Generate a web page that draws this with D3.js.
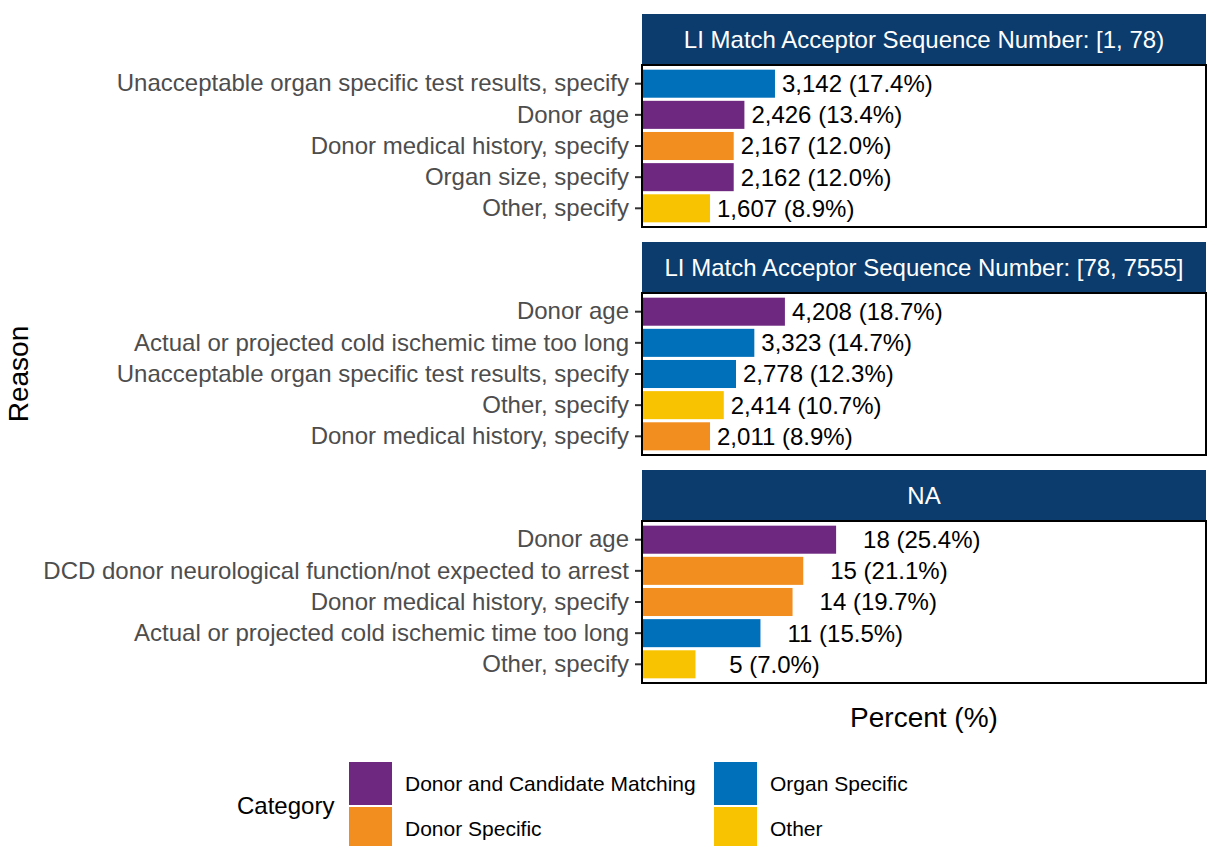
<!DOCTYPE html>
<html>
<head>
<meta charset="utf-8">
<script src="https://cdn.jsdelivr.net/npm/d3@7"></script>
<style>
  body { margin: 0; background: #fff; }
  text { font-family: "Liberation Sans", Arial, sans-serif; }
</style>
</head>
<body>
<div id="chart"></div>
<script>
// facet titles
var facets = ["LI Match Acceptor Sequence Number: [1, 78)",
              "LI Match Acceptor Sequence Number: [78, 7555]",
              "NA"];

// reasons, counts, percents and category of each bar, one set per facet
var reasons1 = ["Unacceptable organ specific test results, specify", "Donor age",
                "Donor medical history, specify", "Organ size, specify", "Other, specify"];
var counts1 = [3142, 2426, 2167, 2162, 1607];
var pct1 = [17.4, 13.4, 12.0, 12.0, 8.9];
var cats1 = ["Organ Specific", "Donor and Candidate Matching", "Donor Specific",
             "Donor and Candidate Matching", "Other"];

var reasons2 = ["Donor age", "Actual or projected cold ischemic time too long",
                "Unacceptable organ specific test results, specify", "Other, specify",
                "Donor medical history, specify"];
var counts2 = [4208, 3323, 2778, 2414, 2011];
var pct2 = [18.7, 14.7, 12.3, 10.7, 8.9];
var cats2 = ["Donor and Candidate Matching", "Organ Specific", "Organ Specific",
             "Other", "Donor Specific"];

var reasons3 = ["Donor age", "DCD donor neurological function/not expected to arrest",
                "Donor medical history, specify", "Actual or projected cold ischemic time too long",
                "Other, specify"];
var counts3 = [18, 15, 14, 11, 5];
var pct3 = [25.4, 21.1, 19.7, 15.5, 7.0];
var cats3 = ["Donor and Candidate Matching", "Donor Specific", "Donor Specific",
             "Organ Specific", "Other"];

var categories = ["Donor and Candidate Matching", "Donor Specific", "Organ Specific", "Other"];
var catColors = ["#6e2880", "#f28e1f", "#0070bb", "#f8c300"];

var width = 1207, height = 846;
var panelLeft = 642, panelRight = 1206;
var stripTop = 14, stripH = 51, panelH = 162, facetStep = 228;

var svg = d3.select("#chart").append("svg")
    .attr("width", width)
    .attr("height", height);

var x = d3.scaleLinear().domain([0, 73.8]).range([panelLeft, panelRight]);
var color = d3.scaleOrdinal().domain(categories).range(catColors);
var fmt = d3.format(",");

var sets = [
  { reasons: reasons1, counts: counts1, pct: pct1, cats: cats1 },
  { reasons: reasons2, counts: counts2, pct: pct2, cats: cats2 },
  { reasons: reasons3, counts: counts3, pct: pct3, cats: cats3 }
];

// counts are padded to a common width, like format() in R does
function pad(s, n) { while (s.length < n) s = " " + s; return s; }

sets.forEach(function(set, i) {
  var top = stripTop + i * facetStep;
  var pTop = top + stripH;
  var data = set.reasons.map(function(r, j) {
    return { reason: r, n: set.counts[j], pct: set.pct[j], cat: set.cats[j] };
  });

  var y = d3.scaleBand()
      .domain(set.reasons)
      .range([pTop, pTop + panelH])
      .paddingInner(0.1)
      .paddingOuter(0.15);

  var g = svg.append("g");

  // strip
  g.append("rect")
      .attr("x", panelLeft)
      .attr("y", top)
      .attr("width", panelRight - panelLeft)
      .attr("height", stripH)
      .attr("fill", "#0b3c6d");
  g.append("text")
      .attr("x", (panelLeft + panelRight) / 2)
      .attr("y", top + stripH / 2)
      .attr("dy", "0.35em")
      .attr("text-anchor", "middle")
      .attr("fill", "#fff")
      .style("font-size", "24px")
      .text(facets[i]);

  // bars
  g.selectAll(".bar")
      .data(data)
      .enter().append("rect")
      .attr("x", x(0))
      .attr("y", function(d) { return y(d.reason); })
      .attr("width", function(d) { return x(d.pct) - x(0); })
      .attr("height", y.bandwidth())
      .attr("fill", function(d) { return color(d.cat); });

  // labels
  g.selectAll(".lab")
      .data(data)
      .enter().append("text")
      .attr("x", function(d) { return x(d.pct) + 7; })
      .attr("y", function(d) { return y(d.reason) + y.bandwidth() / 2; })
      .attr("dy", "0.35em")
      .style("font-size", "24px")
      .style("white-space", "pre")
      .attr("xml:space", "preserve")
      .attr("fill", "#000")
      .text(function(d) { return pad(fmt(d.n), 5) + " (" + d.pct.toFixed(1) + "%)"; });

  // y axis
  var ax = g.append("g")
      .attr("transform", "translate(" + panelLeft + ",0)")
      .call(d3.axisLeft(y).tickSize(7).tickPadding(6));
  ax.select(".domain").remove();
  ax.selectAll(".tick line").attr("stroke", "#333").attr("stroke-width", 2);
  ax.selectAll(".tick text")
      .attr("fill", "#4d4d4d")
      .style("font-size", "24px")
      .style("font-family", "Liberation Sans, Arial, sans-serif");

  // panel border
  g.append("rect")
      .attr("x", panelLeft)
      .attr("y", pTop)
      .attr("width", panelRight - panelLeft)
      .attr("height", panelH)
      .attr("fill", "none")
      .attr("stroke", "#000")
      .attr("stroke-width", 2);
});

// axis titles
svg.append("text")
    .attr("x", (panelLeft + panelRight) / 2)
    .attr("y", 717)
    .attr("dy", "0.35em")
    .attr("text-anchor", "middle")
    .style("font-size", "28px")
    .text("Percent (%)");

svg.append("text")
    .attr("transform", "translate(18,374) rotate(-90)")
    .attr("dy", "0.35em")
    .attr("text-anchor", "middle")
    .style("font-size", "28px")
    .text("Reason");

// legend
var legend = svg.append("g");
legend.append("text")
    .attr("x", 237)
    .attr("y", 806)
    .attr("dy", "0.35em")
    .style("font-size", "24px")
    .text("Category");

var keySize = 43, rowStep = 45;
var colX = [349, 714];
var items = legend.selectAll(".item")
    .data(categories)
    .enter().append("g")
    .attr("transform", function(d, i) {
      return "translate(" + colX[Math.floor(i / 2)] + "," + (762 + (i % 2) * rowStep) + ")";
    });
items.append("rect")
    .attr("width", keySize)
    .attr("height", keySize)
    .attr("fill", function(d) { return color(d); });
items.append("text")
    .attr("x", 56)
    .attr("y", keySize / 2)
    .attr("dy", "0.35em")
    .style("font-size", "21px")
    .text(function(d) { return d; });
</script>
</body>
</html>
